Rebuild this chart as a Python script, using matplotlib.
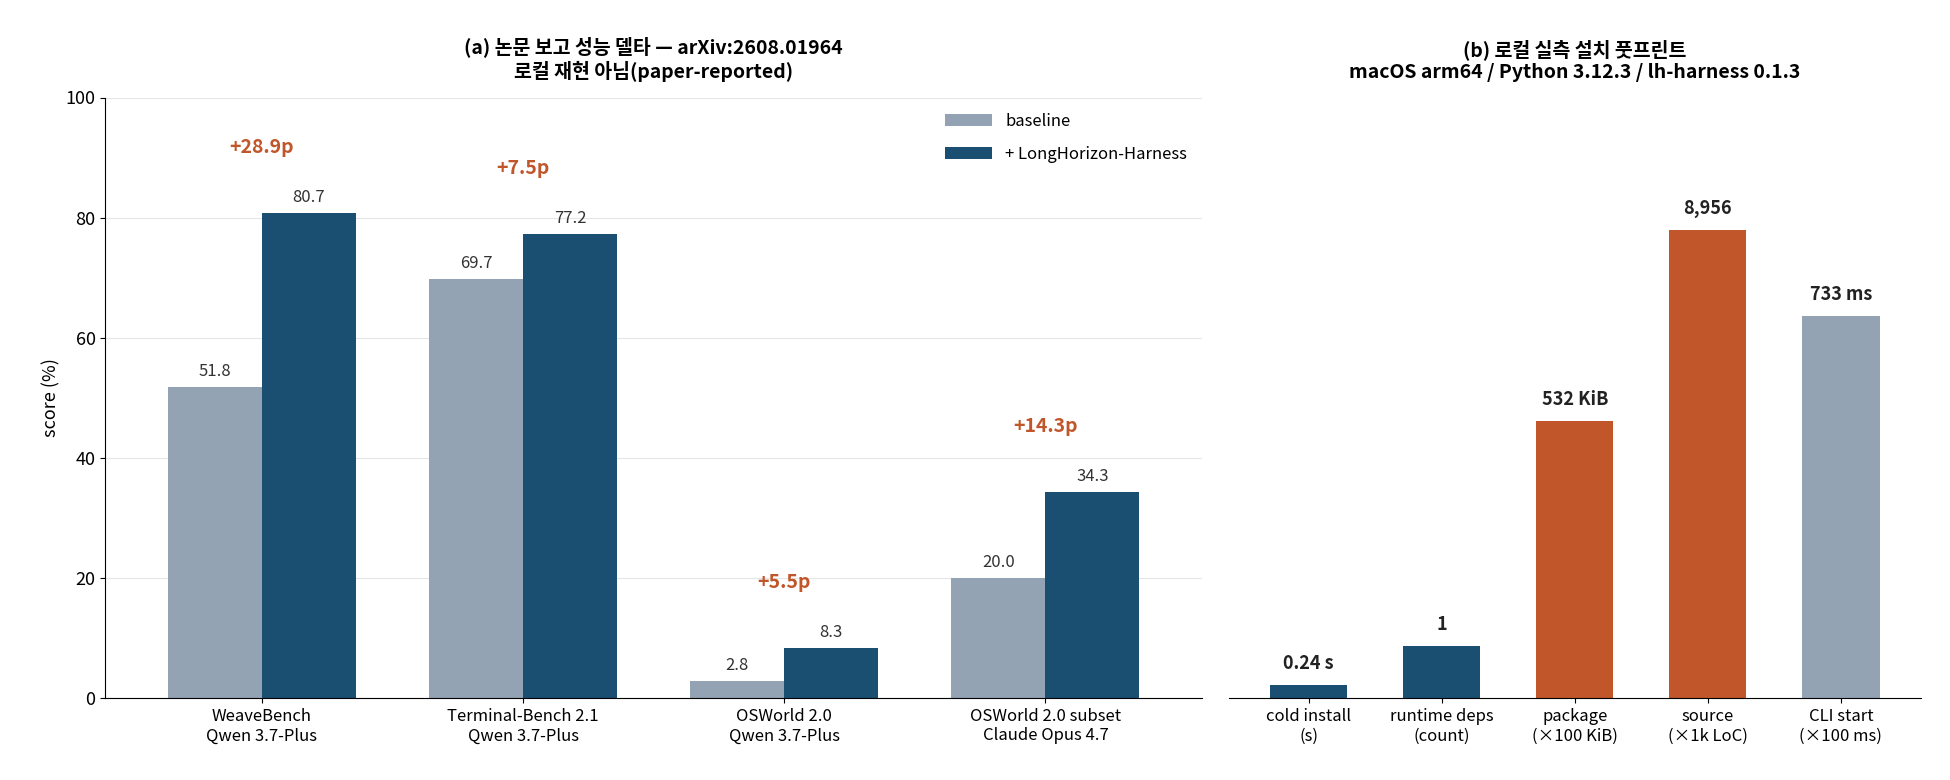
import numpy as np
import matplotlib.pyplot as plt

plt.rcParams['font.family'] = ['Noto Sans CJK KR', 'DejaVu Sans']

# panel (a)
groups = ["WeaveBench\nQwen 3.7-Plus", "Terminal-Bench 2.1\nQwen 3.7-Plus",
          "OSWorld 2.0\nQwen 3.7-Plus", "OSWorld 2.0 subset\nClaude Opus 4.7"]
baseline = [51.8, 69.7, 2.8, 20.0]
harness = [80.7, 77.2, 8.3, 34.3]
deltas = ["+28.9p", "+7.5p", "+5.5p", "+14.3p"]

# panel (b)
metrics = ["cold install\n(s)", "runtime deps\n(count)", "package\n(×100 KiB)",
           "source\n(×1k LoC)", "CLI start\n(×100 ms)"]
heights = [2.2, 8.7, 46.2, 78.0, 63.6]
labels_b = ["0.24 s", "1", "532 KiB", "8,956", "733 ms"]

c_base = "#94a3b3"
c_harn = "#1b4f72"
c_orange = "#c0562a"
colors_b = [c_harn, c_harn, c_orange, c_orange, c_base]

fig = plt.figure(figsize=(19.5, 7.8), dpi=100)
gs = fig.add_gridspec(1, 2, width_ratios=(880, 555), wspace=0.03,
                      left=0.054, right=0.985, top=0.875, bottom=0.105)
ax = fig.add_subplot(gs[0, 0])
bx = fig.add_subplot(gs[0, 1])

x = np.arange(len(groups))
w = 0.36
b1 = ax.bar(x - w/2, baseline, w, color=c_base, label="baseline")
b2 = ax.bar(x + w/2, harness, w, color=c_harn, label="+ LongHorizon-Harness")
for r, v in zip(b1, baseline):
    ax.text(r.get_x() + r.get_width()/2, v + 1.2, f"{v:.1f}", ha="center", va="bottom", fontsize=12, color="#333333")
for r, v in zip(b2, harness):
    ax.text(r.get_x() + r.get_width()/2, v + 1.2, f"{v:.1f}", ha="center", va="bottom", fontsize=12, color="#333333")
for xi, h, d in zip(x, harness, deltas):
    ax.text(xi, h + 11, d, ha="center", va="center", fontsize=14, fontweight="bold", color=c_orange)
ax.set_xticks(x)
ax.set_xticklabels(groups, fontsize=12)
ax.set_ylim(0, 100)
ax.set_xlim(-0.6, 3.6)
ax.set_yticks(range(0, 101, 20))
ax.tick_params(axis="y", labelsize=13)
ax.set_ylabel("score (%)", fontsize=13)
ax.grid(axis="y", color="#e6e6e6", lw=0.8)
ax.set_axisbelow(True)
for s in ["top", "right"]:
    ax.spines[s].set_visible(False)
ax.set_title("(a) 논문 보고 성능 델타 — arXiv:2608.01964\n로컬 재현 아님(paper-reported)",
             fontsize=14, fontweight="bold", pad=14)
ax.legend(loc="upper right", frameon=False, fontsize=12, handlelength=2.8, labelspacing=1.0)

xb = np.arange(len(metrics))
rb = bx.bar(xb, heights, 0.58, color=colors_b)
for r, h, t in zip(rb, heights, labels_b):
    bx.text(r.get_x() + r.get_width()/2, h + 2, t, ha="center", va="bottom", fontsize=13, fontweight="bold", color="#222222")
bx.set_xticks(xb)
bx.set_xticklabels(metrics, fontsize=12)
bx.set_ylim(0, 100)
bx.set_xlim(-0.6, 4.6)
bx.set_yticks([])
for s in ["top", "right", "left"]:
    bx.spines[s].set_visible(False)
bx.set_title("(b) 로컬 실측 설치 풋프린트\nmacOS arm64 / Python 3.12.3 / lh-harness 0.1.3",
             fontsize=14, fontweight="bold", pad=14)

fig.savefig("out.png", dpi=100)
